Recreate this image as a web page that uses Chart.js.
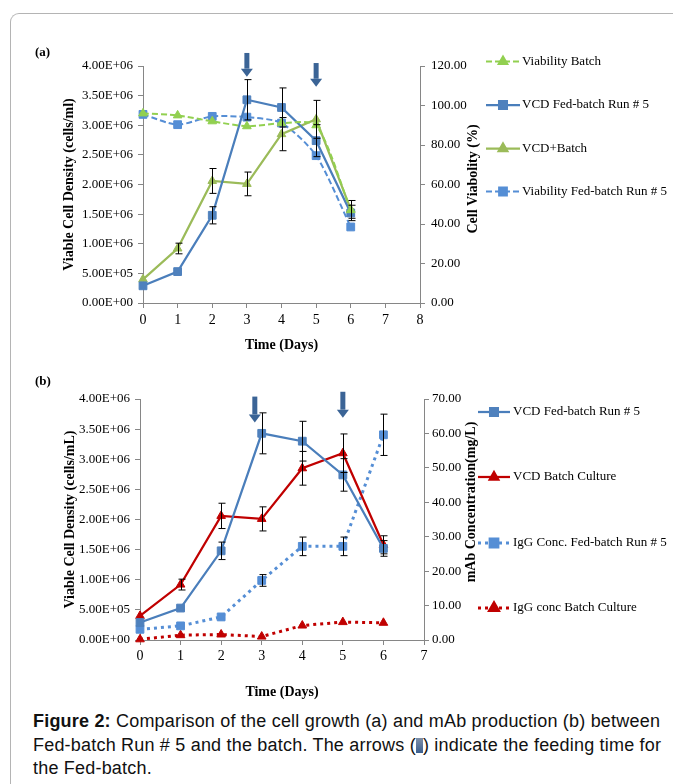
<!DOCTYPE html>
<html>
<head>
<meta charset="utf-8">
<script src="https://cdn.jsdelivr.net/npm/chart.js@4.4.1/dist/chart.umd.min.js"></script>
<style>
html,body{margin:0;padding:0;background:#fff;}
body{width:673px;height:784px;position:relative;overflow:hidden;}
.frame{position:absolute;left:10px;top:13px;width:700px;height:800px;border-left:1px solid #b4b4b4;border-top:1px solid #b4b4b4;border-top-left-radius:9px;}
.panel{position:absolute;left:0;}
#boxA{top:40px;}
#boxB{top:370px;}
.caption{position:absolute;left:33px;top:710px;white-space:nowrap;font-family:"Liberation Sans",Arial,sans-serif;font-size:18px;letter-spacing:0.2px;line-height:23.5px;color:#111;}
.caption b{font-weight:bold;}
.icon{display:inline-block;width:7px;height:15px;vertical-align:-2px;background:linear-gradient(#8090a8,#3b5f8f);}
</style>
</head>
<body>
<div class="frame"></div>
<div class="panel" id="boxA"><canvas id="chartA" width="673" height="330"></canvas></div>
<div class="panel" id="boxB"><canvas id="chartB" width="673" height="335"></canvas></div>
<div class="caption"><b>Figure 2:</b> Comparison of the cell growth (a) and mAb production (b) between<br>Fed-batch Run # 5 and the batch. The arrows (<span class="icon"></span>) indicate the feeding time for<br>the Fed-batch.</div>
<script>
// values
const days = [0, 1, 2, 3, 4, 5, 6];
const vcdFed = [0.29e6, 0.53e6, 1.48e6, 3.43e6, 3.30e6, 2.74e6, 1.52e6];
const vcdFedErr = [0, 0, 0.145e6, 0.34e6, 0.33e6, 0.27e6, 0.13e6];
const vcdBatch = [0.40e6, 0.92e6, 2.06e6, 2.01e6, 2.85e6, 3.10e6, 1.58e6];
const vcdBatchErr = [0, 0.09e6, 0.21e6, 0.20e6, 0.28e6, 0.32e6, 0.15e6];
const viaBatch = [96, 95, 92, 89.5, 91, 90, 47];
const viaFed = [95.5, 90.3, 94.5, 94.1, 91.1, 74.6, 38.5];
const igFed = [3.1, 4.1, 6.7, 17.3, 27.2, 27.2, 59.6];
const igFedErr = [0, 0, 0, 1.7, 2.7, 2.7, 6];
const igBatch = [0.2, 1.4, 1.6, 1.0, 4.2, 5.2, 5.0];

// feeding arrows: day, top and bottom in cell-density units
const arrowDaysA = [3, 5];
const arrowTopA = [4.22e6, 4.05e6];
const arrowBottomA = [3.82e6, 3.65e6];
const arrowDaysB = [2.83, 5];
const arrowTopB = [4.04e6, 4.12e6];
const arrowBottomB = [3.61e6, 3.69e6];

const FED_BLUE = "#4a7ebb", FED_MARK = "#4f81bd", LIGHT_BLUE = "#558ed5";
const GREEN = "#9bbb59", LIGHT_GREEN = "#92d050", RED = "#c00000";
const AXIS = "#868686", ARROW = "#3b6496";
const SERIF = '"Liberation Serif", "Times New Roman", serif';

const pts = (ys) => days.map((d, i) => ({ x: d, y: ys[i] }));

function sci(v) {
  if (v === 0) return "0.00E+00";
  const e = Math.floor(Math.log10(v) + 1e-9);
  return (v / Math.pow(10, e)).toFixed(2) + "E+" + String(e).padStart(2, "0");
}

const errorBars = {
  id: "errorBars",
  afterDatasetsDraw(chart) {
    const ctx = chart.ctx;
    ctx.save();
    ctx.strokeStyle = "#000";
    ctx.lineWidth = 1;
    chart.data.datasets.forEach((ds) => {
      if (!ds.errors) return;
      const xs = chart.scales.x, ys = chart.scales[ds.yAxisID];
      ds.data.forEach((p, i) => {
        const e = ds.errors[i];
        if (!e) return;
        const x = Math.round(xs.getPixelForValue(p.x)) + 0.5;
        const y1 = ys.getPixelForValue(p.y + e), y2 = ys.getPixelForValue(p.y - e);
        ctx.beginPath();
        ctx.moveTo(x, y1); ctx.lineTo(x, y2);
        ctx.moveTo(x - 3, y1); ctx.lineTo(x + 4, y1);
        ctx.moveTo(x - 3, y2); ctx.lineTo(x + 4, y2);
        ctx.stroke();
      });
    });
    ctx.restore();
  },
};

const deco = {
  id: "deco",
  afterDraw(chart, args, o) {
    const ctx = chart.ctx;
    const xs = chart.scales.x, yl = chart.scales.yL;
    ctx.save();
    // panel letter
    ctx.fillStyle = "#000";
    ctx.font = "bold 13px " + SERIF;
    ctx.textBaseline = "middle";
    ctx.textAlign = "left";
    ctx.fillText(o.panel, o.panelX, o.panelY);
    // right axis title, reading bottom to top
    ctx.save();
    ctx.translate(o.rightTitleX, o.rightTitleY);
    ctx.rotate(-Math.PI / 2);
    ctx.textAlign = "center";
    ctx.font = "bold 14px " + SERIF;
    ctx.fillText(o.rightTitle, 0, 0);
    ctx.restore();
    // feeding arrows
    ctx.fillStyle = ARROW;
    o.arrowDays.forEach((d, i) => {
      const x = xs.getPixelForValue(d);
      const top = yl.getPixelForValue(o.arrowTop[i]);
      const bot = yl.getPixelForValue(o.arrowBottom[i]);
      const head = 8;
      ctx.fillRect(x - 2.5, top, 5, bot - top - head);
      ctx.beginPath();
      ctx.moveTo(x - 6, bot - head);
      ctx.lineTo(x + 6, bot - head);
      ctx.lineTo(x, bot);
      ctx.closePath();
      ctx.fill();
    });
    // legend
    ctx.font = "13px " + SERIF;
    ctx.textAlign = "left";
    o.legend.forEach((it) => {
      const ds = chart.data.datasets[it.ds];
      ctx.save();
      ctx.strokeStyle = ds.borderColor;
      ctx.lineWidth = ds.borderWidth;
      ctx.setLineDash(ds.borderDash || []);
      ctx.beginPath();
      ctx.moveTo(o.lineX0, it.y);
      ctx.lineTo(o.lineX1, it.y);
      ctx.stroke();
      ctx.setLineDash([]);
      ctx.fillStyle = ds.pointBackgroundColor;
      ctx.strokeStyle = ds.pointBorderColor;
      Chart.helpers.drawPoint(ctx, { pointStyle: ds.pointStyle, radius: ds.pointRadius, rotation: 0, borderWidth: 1 },
        (o.lineX0 + o.lineX1) / 2, it.y);
      ctx.restore();
      ctx.fillStyle = "#000";
      ctx.fillText(ds.label, o.textX, it.y);
    });
    ctx.restore();
  },
};

function series(label, ys, axis, color, mark, style, kind, errors) {
  const d = {
    label, data: pts(ys), yAxisID: axis,
    borderColor: color, borderWidth: 2.25,
    pointStyle: style, pointRadius: style === "rect" ? 5.5 : 5,
    pointBackgroundColor: mark, pointBorderColor: mark, pointBorderWidth: 1,
    tension: kind === "dash" ? 0.25 : 0, clip: false, fill: false,
  };
  if (kind === "dash") { d.borderDash = [6, 3]; d.borderWidth = 2; }
  if (kind === "dot") { d.borderDash = [3, 4]; d.borderWidth = 3; }
  if (errors) d.errors = errors;
  return d;
}

function axisOpts(extra) {
  return Object.assign({
    type: "linear",
    grid: { drawOnChartArea: false, drawTicks: true, tickLength: 5, color: AXIS },
    border: { color: AXIS, width: 1 },
  }, extra);
}

function makeChart(id, datasets, cfg) {
  return new Chart(document.getElementById(id), {
    type: "line",
    data: { datasets },
    plugins: [errorBars, deco],
    options: {
      responsive: false,
      animation: false,
      layout: { padding: cfg.padding },
      plugins: { legend: { display: false }, tooltip: { enabled: false }, deco: cfg.deco },
      scales: {
        x: axisOpts({
          position: "bottom", min: 0, max: cfg.xMax,
          ticks: { stepSize: 1, color: "#000", padding: cfg.xPad, font: { family: SERIF, size: 14 } },
          title: { display: true, text: "Time (Days)", color: "#000", padding: 0, font: { family: SERIF, size: 14, weight: "bold" } },
          afterFit: (s) => { s.height = cfg.xHeight; },
        }),
        yL: axisOpts({
          position: "left", min: 0, max: 4e6,
          ticks: { stepSize: 5e5, color: "#000", padding: 5, callback: sci, font: { family: SERIF, size: 13 } },
          title: { display: true, text: cfg.leftTitle, color: "#000", padding: 0, font: { family: SERIF, size: 14, weight: "bold" } },
          afterFit: (s) => { s.width = cfg.leftWidth; },
        }),
        yR: axisOpts({
          position: "right", min: 0, max: cfg.rMax,
          ticks: { stepSize: cfg.rStep, color: "#000", padding: cfg.rPad, callback: (v) => v.toFixed(2), font: { family: SERIF, size: 13 } },
          afterFit: (s) => { s.width = cfg.rightWidth; },
        }),
      },
    },
  });
}

makeChart("chartA", [
  series("Viability Batch", viaBatch, "yR", LIGHT_GREEN, LIGHT_GREEN, "triangle", "dash"),
  series("VCD Fed-batch Run # 5", vcdFed, "yL", FED_BLUE, FED_MARK, "rect", "solid", vcdFedErr),
  series("VCD+Batch", vcdBatch, "yL", GREEN, GREEN, "triangle", "solid", vcdBatchErr),
  series("Viability Fed-batch Run # 5", viaFed, "yR", LIGHT_BLUE, LIGHT_BLUE, "rect", "dash"),
], {
  padding: { left: 61, right: 188, top: 26, bottom: 16 },
  leftWidth: 82, rightWidth: 65, xHeight: 51, xPad: 4, xMax: 8, rMax: 120, rStep: 20, rPad: 6,
  leftTitle: "Viable Cell Density (cells/ml)",
  deco: {
    panel: "(a)", panelX: 35, panelY: 13,
    rightTitle: "Cell Viabolity (%)", rightTitleX: 473, rightTitleY: 139,
    arrowDays: arrowDaysA, arrowTop: arrowTopA, arrowBottom: arrowBottomA,
    lineX0: 486, lineX1: 520, textX: 522,
    legend: [{ ds: 0, y: 21.5 }, { ds: 1, y: 65 }, { ds: 2, y: 108.5 }, { ds: 3, y: 151.5 }],
  },
});

makeChart("chartB", [
  series("VCD Fed-batch Run # 5", vcdFed, "yL", FED_BLUE, FED_MARK, "rect", "solid", vcdFedErr),
  series("VCD Batch Culture", vcdBatch, "yL", RED, RED, "triangle", "solid", vcdBatchErr),
  series("IgG Conc. Fed-batch Run # 5", igFed, "yR", LIGHT_BLUE, LIGHT_BLUE, "rect", "dot", igFedErr),
  series("IgG conc Batch Culture", igBatch, "yR", RED, RED, "triangle", "dot"),
], {
  padding: { left: 62, right: 195, top: 29, bottom: 4 },
  leftWidth: 78, rightWidth: 54, xHeight: 61, xPad: 3, xMax: 7, rMax: 70, rStep: 10, rPad: 3,
  leftTitle: "Viable Cell Density (cells/mL)",
  deco: {
    panel: "(b)", panelX: 35, panelY: 12,
    rightTitle: "mAb Concentration(mg/L)", rightTitleX: 471, rightTitleY: 132,
    arrowDays: arrowDaysB, arrowTop: arrowTopB, arrowBottom: arrowBottomB,
    lineX0: 478, lineX1: 510, textX: 513,
    legend: [{ ds: 0, y: 42 }, { ds: 1, y: 107 }, { ds: 2, y: 173 }, { ds: 3, y: 238 }],
  },
});
</script>
</body>
</html>
